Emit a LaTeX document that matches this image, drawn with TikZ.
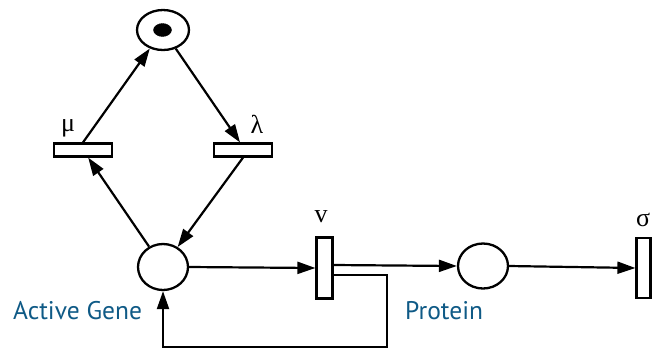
\documentclass[tikz,border=0pt]{standalone}
\usepackage{fontspec}
\setmainfont{Liberation Serif}
\newfontfamily\lblfont{PT Sans}
\usetikzlibrary{shapes.geometric,arrows.meta}
\definecolor{lblblue}{HTML}{0F5A86}
\tikzset{
  x=1pt,y=1pt,
  place/.style={draw,ellipse,line width=2.3pt,inner sep=0pt},
  trans/.style={draw,rectangle,line width=2.2pt,inner sep=0pt,fill=white},
  arr/.style={line width=2.2pt,-{Triangle[length=18pt,width=12pt]}},
  greek/.style={font=\fontsize{26}{26}\selectfont,inner sep=0pt},
  lbl/.style={font=\lblfont\fontsize{25.5}{26}\selectfont,text=lblblue,inner sep=0pt,anchor=west}
}
\begin{document}
\begin{tikzpicture}
\useasboundingbox (0,0) rectangle (655,-349);
% places
\node[place,minimum width=52,minimum height=40] (top) at (163,-30) {};
\node[draw,fill=black,ellipse,inner sep=0pt,minimum width=18,minimum height=13] (tok) at (162.5,-30) {};
\node[place,minimum width=50,minimum height=46] (ag) at (163,-267) {};
\node[place,minimum width=50,minimum height=45] (prot) at (483,-266) {};
% transitions
\node[trans,minimum width=58,minimum height=13] (mu) at (83,-150) {};
\node[trans,minimum width=58,minimum height=13] (la) at (243,-150) {};
\node[trans,minimum width=16,minimum height=61] (v) at (324.5,-268) {};
\node[trans,minimum width=14,minimum height=60] (sig) at (643.5,-268) {};
% greek labels
\node[greek] (lmu) at (68,-128) {μ};
\node[greek] (lla) at (257,-124) {λ};
\node[greek] (lv) at (321,-217) {v};
\node[greek] (lsig) at (643,-220) {σ};
% text labels
\node[lbl] (lag) at (13,-311) {Active Gene};
\node[lbl] (lprot) at (405,-311) {Protein};
% arcs
\draw[arr] (ag) -- (mu);
\draw[arr] (mu.north) -- (top);
\draw[arr] (top) -- ([xshift=-3pt]la.north);
\draw[arr] (la.south) -- (ag);
\draw[arr] (ag.east) -- (v.west);
\draw[arr] ([yshift=3pt]v.east) -- (prot.west);
\draw[arr] (prot.east) -- (sig.west);
\coordinate (c1) at (387,-347);
\draw[arr] ([yshift=-7pt]v.east) -| (c1) -| (ag.south);
\end{tikzpicture}
\end{document}
